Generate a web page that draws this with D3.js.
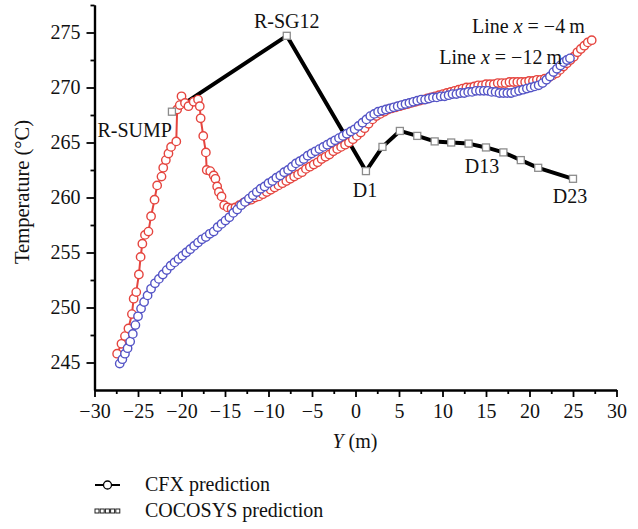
<!DOCTYPE html>
<html>
<head>
<meta charset="utf-8">
<script src="https://cdn.jsdelivr.net/npm/d3@7"></script>
<style>
  body { margin: 0; background: #fff; }
  text { font-family: "Liberation Serif", "DejaVu Serif", serif; fill: #111; }
</style>
</head>
<body>
<div id="canvas"></div>
<script>
/* values: [Y (m), temperature (°C)] */

// CFX prediction, line x = -4 m (red)
var cfxMinus4 = [
    [-27.4,245.8],[-26.9,246.7],[-26.5,247.4],[-26.1,248.1],[-25.7,249.4],[-25.5,250.8],[-25.2,251.4],[-24.9,253.0],
    [-24.7,254.6],[-24.5,255.8],[-24.2,256.6],[-23.8,256.9],[-23.5,258.3],[-23.1,259.8],[-22.8,261.1],[-22.3,261.9],
    [-22.1,262.7],[-21.8,263.4],[-21.5,264.0],[-21.2,264.6],[-20.6,265.1],[-20.5,268.0],[-20.2,268.4],[-20.0,269.2],
    [-19.6,268.6],[-19.2,268.3],[-18.6,268.7],[-18.1,268.9],[-17.9,268.3],[-17.8,267.2],[-17.5,265.6],[-17.2,264.1],
    [-17.1,262.5],[-16.7,262.4],[-16.3,262.0],[-16.1,261.7],[-15.9,261.0],[-15.7,260.5],[-15.4,260.1],[-15.1,259.3],
    [-14.7,259.1],[-14.25,259.0],[-13.8,259.1],[-13.35,259.3],[-12.9,259.5],[-12.45,259.7],[-12.0,259.8],[-11.55,260.0],
    [-11.1,260.1],[-10.65,260.3],[-10.2,260.5],[-9.75,260.7],[-9.3,260.9],[-8.85,261.1],[-8.4,261.3],[-7.95,261.5],
    [-7.5,261.7],[-7.05,261.9],[-6.6,262.1],[-6.15,262.3],[-5.7,262.6],[-5.25,262.8],[-4.8,263.0],[-4.35,263.2],
    [-3.9,263.5],[-3.45,263.7],[-3.0,263.9],[-2.55,264.2],[-2.1,264.4],[-1.65,264.6],[-1.2,264.8],[-0.75,265.0],
    [-0.3,265.3],[0.15,265.6],[0.6,265.9],[1.05,266.3],[1.5,266.7],[1.95,267.1],[2.4,267.4],[2.85,267.6],
    [3.3,267.8],[3.75,268.0],[4.2,268.1],[4.65,268.2],[5.1,268.3],[5.55,268.4],[6.0,268.5],[6.45,268.6],
    [6.9,268.7],[7.35,268.8],[7.8,268.9],[8.25,269.0],[8.7,269.1],[9.15,269.2],[9.6,269.3],[10.05,269.4],
    [10.5,269.5],[10.95,269.6],[11.4,269.7],[11.85,269.8],[12.3,269.9],[12.75,270.0],[13.2,270.0],[13.65,270.1],
    [14.1,270.2],[14.55,270.2],[15.0,270.3],[15.45,270.3],[15.9,270.3],[16.35,270.4],[16.8,270.4],[17.25,270.4],
    [17.7,270.5],[18.15,270.5],[18.6,270.5],[19.05,270.5],[19.5,270.5],[19.95,270.6],[20.4,270.6],[20.85,270.7],
    [21.3,270.7],[21.75,270.8],[22.2,270.9],[22.65,271.1],[23.1,271.3],[23.5,271.6],[23.9,271.9],[24.3,272.2],
    [24.7,272.5],[25.1,272.8],[25.5,273.2],[25.9,273.5],[26.3,273.8],[26.7,274.1],[27.15,274.3]
];

// CFX prediction, line x = -12 m (blue)
var cfxMinus12 = [
    [-27.1,244.9],[-26.8,245.3],[-26.5,245.8],[-26.2,246.3],[-25.9,246.9],[-25.6,247.6],[-25.3,248.4],[-25.0,249.2],
    [-24.65,249.9],[-24.3,250.5],[-23.9,251.1],[-23.5,251.7],[-23.05,252.2],[-22.6,252.6],[-22.15,253.0],[-21.7,253.4],
    [-21.25,253.8],[-20.8,254.1],[-20.35,254.4],[-19.9,254.7],[-19.45,255.0],[-19.0,255.3],[-18.55,255.6],[-18.1,255.9],
    [-17.65,256.2],[-17.2,256.4],[-16.75,256.7],[-16.3,256.9],[-15.85,257.3],[-15.4,257.6],[-14.95,257.9],[-14.5,258.2],
    [-14.05,258.6],[-13.6,258.9],[-13.15,259.3],[-12.7,259.6],[-12.25,259.9],[-11.8,260.2],[-11.35,260.5],[-10.9,260.8],
    [-10.45,261.0],[-10.0,261.3],[-9.55,261.5],[-9.1,261.8],[-8.65,262.0],[-8.2,262.3],[-7.75,262.5],[-7.3,262.8],
    [-6.85,263.1],[-6.4,263.3],[-5.95,263.5],[-5.5,263.8],[-5.05,264.0],[-4.6,264.2],[-4.15,264.4],[-3.7,264.6],
    [-3.25,264.8],[-2.8,265.0],[-2.35,265.2],[-1.9,265.4],[-1.45,265.6],[-1.0,265.8],[-0.55,266.0],[-0.1,266.2],
    [0.35,266.5],[0.8,266.8],[1.25,267.1],[1.7,267.4],[2.15,267.6],[2.6,267.8],[3.05,267.9],[3.5,268.0],
    [3.95,268.1],[4.4,268.2],[4.85,268.3],[5.3,268.4],[5.75,268.5],[6.2,268.6],[6.65,268.7],[7.1,268.8],
    [7.55,268.9],[8.0,268.9],[8.45,269.0],[8.9,269.1],[9.35,269.1],[9.8,269.2],[10.25,269.2],[10.7,269.3],
    [11.15,269.4],[11.6,269.4],[12.05,269.5],[12.5,269.5],[12.95,269.6],[13.4,269.6],[13.85,269.7],[14.3,269.7],
    [14.75,269.7],[15.2,269.7],[15.65,269.6],[16.1,269.6],[16.55,269.5],[17.0,269.5],[17.45,269.5],[17.9,269.5],
    [18.35,269.6],[18.8,269.7],[19.25,269.8],[19.7,269.9],[20.15,270.0],[20.6,270.1],[21.05,270.2],[21.5,270.4],
    [21.95,270.7],[22.35,271.0],[22.75,271.4],[23.15,271.7],[23.55,272.0],[23.95,272.3],[24.3,272.5],[24.65,272.65]
];

// COCOSYS prediction (compartments)
var cocosysY = [-21.1, -7.9, 1.2, 3.1, 5.1, 7.1, 9.1, 11.0, 13.0, 15.0, 17.0, 19.0, 21.0, 25.0];
var cocosysT = [267.8, 274.7, 262.4, 264.6, 266.05, 265.6, 265.1, 265.0, 264.9, 264.55, 264.1, 263.4, 262.7, 261.7];
var cocosysNames = ["R-SUMP", "R-SG12", "D1", "", "", "", "", "", "", "D13", "", "", "", "D23"];

var xMajor = [-30, -25, -20, -15, -10, -5, 0, 5, 10, 15, 20, 25, 30];
var yMajor = [245, 250, 255, 260, 265, 270, 275];
var legendLabels = ["CFX prediction", "COCOSYS prediction"];

var red = "#e5453f", blue = "#5454c6";
var serif = "Liberation Serif";

var svg = d3.select("#canvas")
    .append("svg")
    .attr("width", 638)
    .attr("height", 529);

var x = d3.scaleLinear().domain([-30, 30]).range([94.5, 616.5]);
var y = d3.scaleLinear().domain([242.5, 277.5]).range([390, 5]);

// minor ticks every 2.5
var xMinor = d3.range(-27.5, 30, 5);
var yMinor = d3.range(247.5, 280, 5);

var gx = svg.append("g").attr("transform", "translate(0,390)");
gx.call(d3.axisBottom(x).tickValues(xMinor).tickSize(4).tickSizeOuter(0).tickFormat(""));
gx.append("g").call(d3.axisBottom(x).tickValues(xMajor).tickSize(7).tickSizeOuter(0).tickPadding(7));

var gy = svg.append("g").attr("transform", "translate(94.5,0)");
gy.call(d3.axisLeft(y).tickValues(yMinor).tickSize(4).tickSizeOuter(0).tickFormat(""));
gy.append("g").call(d3.axisLeft(y).tickValues(yMajor).tickSize(8).tickSizeOuter(0).tickPadding(6));

svg.selectAll("g").attr("font-family", serif).attr("font-size", 20);
svg.selectAll(".domain").style("stroke", "#000").style("stroke-width", 2.2);
svg.selectAll(".tick line").style("stroke", "#000").style("stroke-width", 1.8);
svg.selectAll(".tick text")
    .attr("font-family", serif)
    .style("font-family", serif)
    .style("font-size", "20px")
    .style("fill", "#111");

// axis titles
svg.append("text")
    .attr("x", 355)
    .attr("y", 448)
    .attr("text-anchor", "middle")
    .style("font-size", "20px")
    .html('<tspan font-style="italic">Y</tspan> (m)');

svg.append("text")
    .attr("transform", "translate(29,192) rotate(-90)")
    .attr("text-anchor", "middle")
    .style("font-size", "20.5px")
    .text("Temperature (°C)");

// COCOSYS polyline (drawn under the CFX markers)
var cocoPts = cocosysY.map(function(d, i) { return [d, cocosysT[i]]; });
var line = d3.line().x(function(d) { return x(d[0]); }).y(function(d) { return y(d[1]); });

svg.append("path")
    .datum(cocoPts)
    .attr("d", line)
    .style("fill", "none")
    .style("stroke", "#000")
    .style("stroke-width", 4)
    .style("stroke-linejoin", "round");

// CFX curves: line plus open circles
function drawCfx(data, col) {
    svg.append("path")
        .datum(data)
        .attr("d", line)
        .style("fill", "none")
        .style("stroke", col)
        .style("stroke-width", 2);
    svg.append("g").selectAll("circle")
        .data(data)
        .enter()
        .append("circle")
        .attr("cx", function(d) { return x(d[0]); })
        .attr("cy", function(d) { return y(d[1]); })
        .attr("r", 4.2)
        .style("fill", "#fff")
        .style("stroke", col)
        .style("stroke-width", 1.4);
}
drawCfx(cfxMinus4, red);
drawCfx(cfxMinus12, blue);

svg.append("g").selectAll("rect")
    .data(cocoPts)
    .enter()
    .append("rect")
    .attr("x", function(d) { return x(d[0]) - 3.5; })
    .attr("y", function(d) { return y(d[1]) - 3.5; })
    .attr("width", 7)
    .attr("height", 7)
    .style("fill", "#fff")
    .style("stroke", "#8c8c8c")
    .style("stroke-width", 1.3);

// compartment labels, offset from their squares
var labelOffset = {
    "R-SUMP": [0, 25, "end"],
    "R-SG12": [0, -8, "middle"],
    "D1": [-1, 26, "middle"],
    "D13": [-4, 26, "middle"],
    "D23": [-3, 24, "middle"]
};
cocoPts.forEach(function(d, i) {
    var name = cocosysNames[i];
    if (!name) return;
    var o = labelOffset[name];
    svg.append("text")
        .attr("x", x(d[0]) + o[0])
        .attr("y", y(d[1]) + o[1])
        .attr("text-anchor", o[2])
        .style("font-size", "20px")
        .text(name);
});

// line labels near the ends of the CFX curves
var end4 = cfxMinus4[cfxMinus4.length - 1],
    end12 = cfxMinus12[cfxMinus12.length - 1];

svg.append("text")
    .attr("x", x(end4[0]) - 7)
    .attr("y", y(end4[1]) - 7)
    .attr("text-anchor", "end")
    .style("font-size", "20px")
    .html('Line <tspan font-style="italic">x</tspan> = −4\u2009m');

svg.append("text")
    .attr("x", x(end12[0]) - 8)
    .attr("y", y(end12[1]) + 6)
    .attr("text-anchor", "end")
    .style("font-size", "20px")
    .html('Line <tspan font-style="italic">x</tspan> = −12\u2009m');

// legend
var legend = svg.append("g").attr("transform", "translate(95,485)");

legend.append("line")
    .attr("x1", 0).attr("x2", 25)
    .style("stroke", "#000")
    .style("stroke-width", 2);
legend.append("circle")
    .attr("cx", 12.5)
    .attr("r", 4)
    .style("fill", "#fff")
    .style("stroke", "#000")
    .style("stroke-width", 1.3);

legend.append("g").selectAll("rect")
    .data(d3.range(5))
    .enter()
    .append("rect")
    .attr("x", function(d) { return d * 5.2; })
    .attr("y", 24)
    .attr("width", 4)
    .attr("height", 4)
    .style("fill", "#fff")
    .style("stroke", "#222")
    .style("stroke-width", 1);

legend.selectAll(".leg-text")
    .data(legendLabels)
    .enter()
    .append("text")
    .attr("class", "leg-text")
    .attr("x", 50)
    .attr("y", function(d, i) { return 6 + i * 26; })
    .style("font-size", "20px")
    .text(function(d) { return d; });
</script>
</body>
</html>
